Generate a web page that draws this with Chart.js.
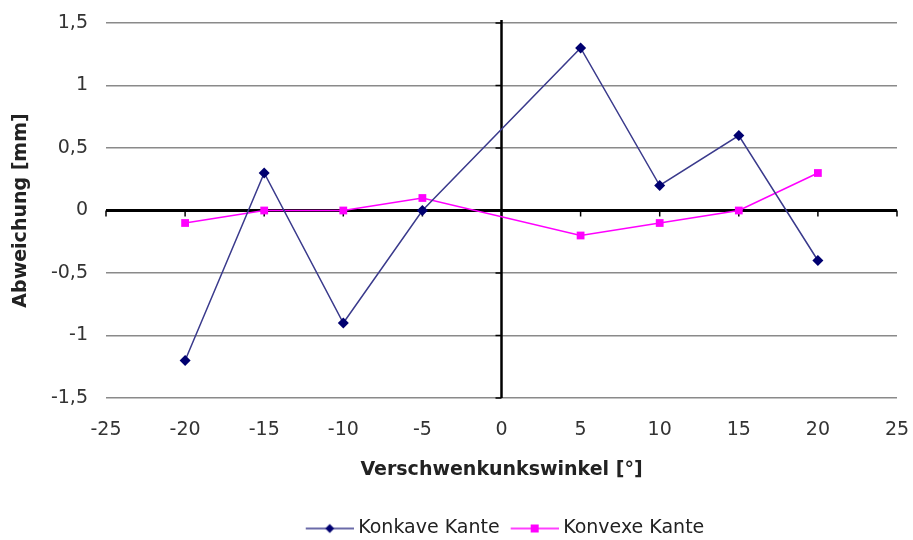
<!DOCTYPE html>
<html>
<head>
<meta charset="utf-8">
<script src="https://cdn.jsdelivr.net/npm/chart.js@4/dist/chart.umd.min.js"></script>
<style>
  html, body { margin: 0; padding: 0; background: #fff; }
  #wrap { width: 913px; height: 540px; }
</style>
</head>
<body>
<div id="wrap"><canvas id="c" width="913" height="540"></canvas></div>
<script>
// ---- data ----
const angles = [-20, -15, -10, -5, 5, 10, 15, 20];
const konkave = [-1.2, 0.3, -0.9, 0.0, 1.3, 0.2, 0.6, -0.4];
const konvexe = [-0.1, 0.0, 0.0, 0.1, -0.2, -0.1, 0.0, 0.3];
const seriesNames = ['Konkave Kante', 'Konvexe Kante'];
const xTitle = 'Verschwenkunkswinkel [°]';
const yTitle = 'Abweichung [mm]';

const FONT = "'DejaVu Sans', 'Liberation Sans', sans-serif";
const navyLine = '#3a3a8c';
const navyPoint = '#000070';
const magenta = '#ff00ff';

function legendIcon(color, pcolor, style) {
  const c = document.createElement('canvas');
  c.width = 60; c.height = 12;
  const g = c.getContext('2d');
  g.strokeStyle = color; g.lineWidth = 1.5;
  g.beginPath(); g.moveTo(12, 6); g.lineTo(60, 6); g.stroke();
  g.fillStyle = pcolor;
  const cx = 36;
  if (style === 'diamond') {
    g.beginPath(); g.moveTo(cx, 1.5); g.lineTo(cx + 4.5, 6); g.lineTo(cx, 10.5); g.lineTo(cx - 4.5, 6); g.closePath(); g.fill();
  } else {
    g.fillRect(cx - 4, 2, 8, 8);
  }
  return c;
}
const icons = [legendIcon(navyLine, navyPoint, 'diamond'), legendIcon(magenta, magenta, 'square')];

const zeroAxes = {
  id: 'zeroAxes',
  beforeDatasetsDraw(chart) {
    const { ctx, chartArea: a, scales: { x, y } } = chart;
    const y0 = y.getPixelForValue(0);
    const x0 = x.getPixelForValue(0);
    ctx.save();
    ctx.strokeStyle = '#000';
    ctx.lineWidth = 3;
    ctx.beginPath(); ctx.moveTo(a.left, y0); ctx.lineTo(a.right, y0); ctx.stroke();
    ctx.lineWidth = 2.5;
    ctx.beginPath(); ctx.moveTo(x0, a.top - 3); ctx.lineTo(x0, a.bottom); ctx.stroke();
    ctx.lineWidth = 1.5;
    x.ticks.forEach(t => {
      const px = x.getPixelForValue(t.value);
      ctx.beginPath(); ctx.moveTo(px, y0); ctx.lineTo(px, y0 + 6); ctx.stroke();
    });
    y.ticks.forEach(t => {
      const py = y.getPixelForValue(t.value);
      ctx.beginPath(); ctx.moveTo(x0 - 6, py); ctx.lineTo(x0, py); ctx.stroke();
    });
    ctx.restore();
  }
};

const fmt = v => String(v).replace('.', ',');

new Chart(document.getElementById('c'), {
  type: 'scatter',
  data: {
    datasets: [
      {
        label: seriesNames[0],
        data: angles.map((a, i) => ({ x: a, y: konkave[i] })),
        showLine: true,
        borderColor: navyLine,
        borderWidth: 1.5,
        pointStyle: 'rectRot',
        pointRadius: 5.5,
        pointHoverRadius: 5.5,
        pointBackgroundColor: navyPoint,
        pointBorderColor: navyPoint,
        pointBorderWidth: 0
      },
      {
        label: seriesNames[1],
        data: angles.map((a, i) => ({ x: a, y: konvexe[i] })),
        showLine: true,
        borderColor: magenta,
        borderWidth: 1.5,
        pointStyle: 'rect',
        pointRadius: 5.5,
        pointHoverRadius: 5.5,
        pointBackgroundColor: magenta,
        pointBorderColor: magenta,
        pointBorderWidth: 0
      }
    ]
  },
  options: {
    responsive: false,
    animation: false,
    devicePixelRatio: 1,
    layout: { padding: { left: 0, right: 16, top: 23, bottom: -8 } },
    plugins: {
      tooltip: { enabled: false },
      legend: {
        position: 'bottom',
        fullSize: false,
        labels: {
          usePointStyle: true,
          pointStyleWidth: 50,
          padding: 4,
          color: '#222',
          font: { family: FONT, size: 19 },
          generateLabels(chart) {
            return chart.data.datasets.map((ds, i) => ({
              text: ds.label,
              pointStyle: icons[i],
              fillStyle: 'transparent',
              strokeStyle: 'transparent',
              lineWidth: 0,
              fontColor: '#222',
              datasetIndex: i,
              hidden: false
            }));
          }
        }
      }
    },
    scales: {
      x: {
        type: 'linear',
        min: -25, max: 25,
        border: { display: false },
        grid: { display: false, drawTicks: false },
        ticks: { stepSize: 5, padding: 21, color: '#333', font: { family: FONT, size: 19 }, callback: fmt },
        title: { display: true, text: xTitle, color: '#222', padding: { top: 16, bottom: 34 }, font: { family: FONT, size: 19, weight: 'bold' } },
        afterFit(s) { s.height = 117; s.paddingLeft = 0; s.paddingRight = 0; }
      },
      y: {
        min: -1.5, max: 1.5,
        border: { display: false },
        grid: {
          drawTicks: false,
          color: '#8a8a8a',
          lineWidth: 1.6
        },
        ticks: { stepSize: 0.5, padding: 18, color: '#333', font: { family: FONT, size: 19 }, callback: fmt },
        title: { display: true, text: yTitle, color: '#222', padding: { top: 10, bottom: 0 }, font: { family: FONT, size: 19, weight: 'bold' } },
        afterFit(s) { s.width = 106; s.paddingTop = 0; s.paddingBottom = 0; }
      }
    }
  },
  plugins: [zeroAxes]
});
</script>
</body>
</html>
